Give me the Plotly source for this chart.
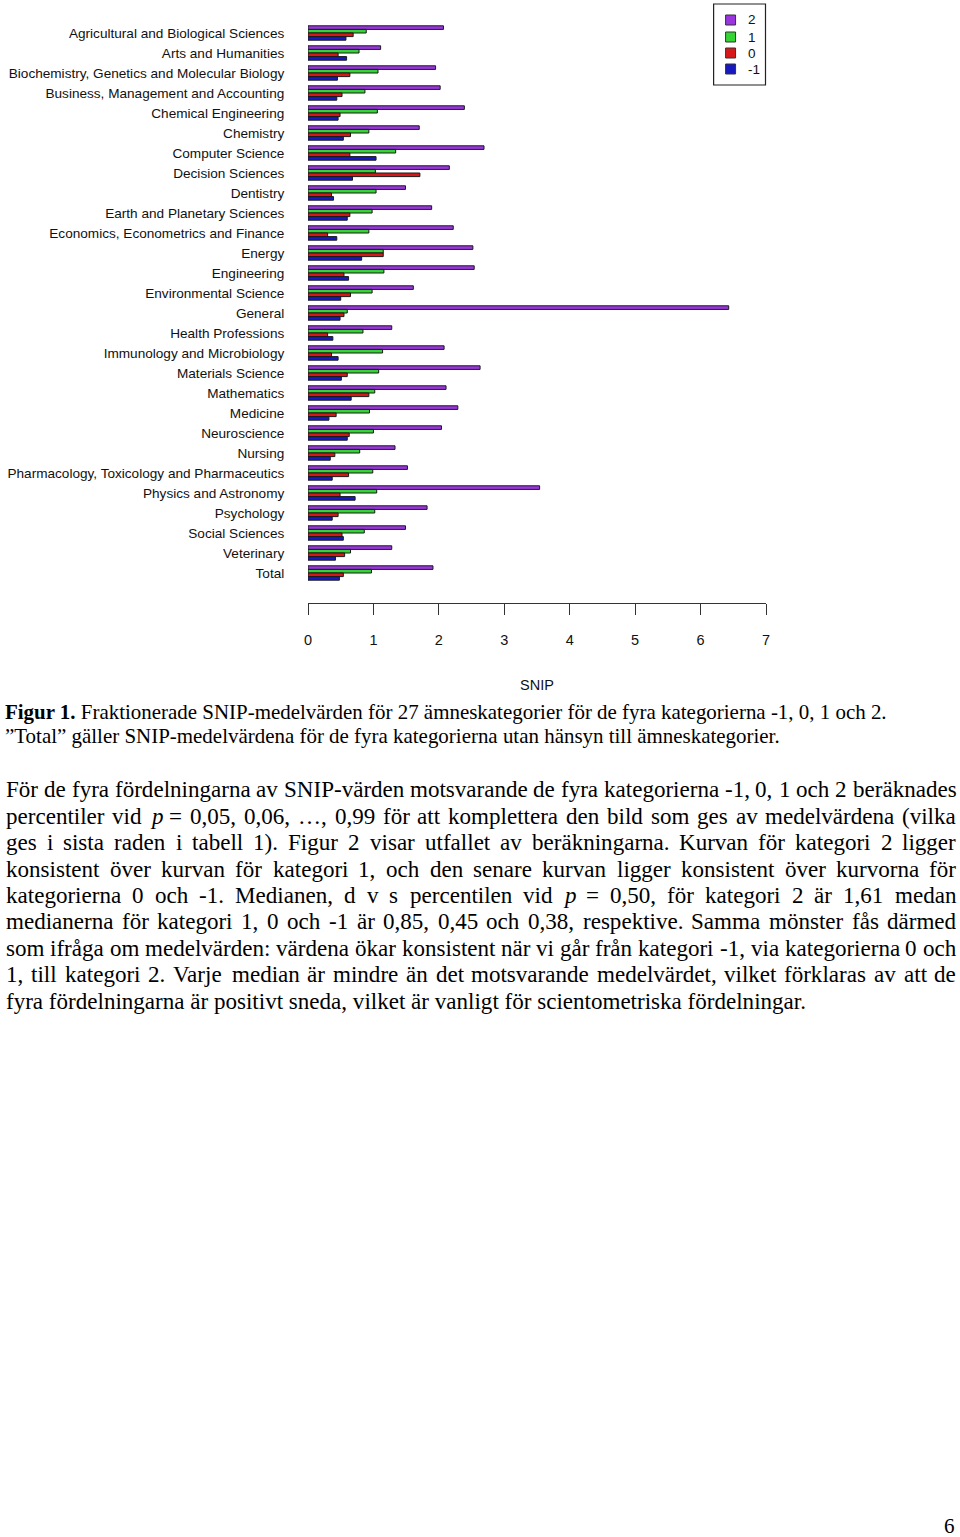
import plotly.graph_objects as go

categories = [
    "Agricultural and Biological Sciences", "Arts and Humanities",
    "Biochemistry, Genetics and Molecular Biology", "Business, Management and Accounting",
    "Chemical Engineering", "Chemistry", "Computer Science", "Decision Sciences",
    "Dentistry", "Earth and Planetary Sciences", "Economics, Econometrics and Finance",
    "Energy", "Engineering", "Environmental Science", "General", "Health Professions",
    "Immunology and Microbiology", "Materials Science", "Mathematics", "Medicine",
    "Neuroscience", "Nursing", "Pharmacology, Toxicology and Pharmaceutics",
    "Physics and Astronomy", "Psychology", "Social Sciences", "Veterinary", "Total",
]
snip_2 = [2.07, 1.11, 1.95, 2.02, 2.39, 1.70, 2.69, 2.16, 1.49, 1.89, 2.22, 2.52, 2.54, 1.61,
          6.43, 1.28, 2.08, 2.63, 2.11, 2.29, 2.04, 1.33, 1.52, 3.54, 1.82, 1.49, 1.28, 1.91]
snip_1 = [0.89, 0.78, 1.07, 0.87, 1.06, 0.93, 1.34, 1.03, 1.04, 0.98, 0.93, 1.15, 1.16, 0.98,
          0.60, 0.84, 1.14, 1.08, 1.02, 0.94, 1.00, 0.79, 0.99, 1.05, 1.02, 0.86, 0.65, 0.97]
snip_0 = [0.69, 0.46, 0.64, 0.52, 0.49, 0.65, 0.64, 1.71, 0.36, 0.64, 0.30, 1.15, 0.55, 0.65,
          0.55, 0.30, 0.36, 0.60, 0.93, 0.43, 0.63, 0.41, 0.62, 0.49, 0.46, 0.52, 0.56, 0.54]
snip_m1 = [0.58, 0.59, 0.45, 0.44, 0.46, 0.54, 1.04, 0.68, 0.39, 0.60, 0.44, 0.82, 0.62, 0.50,
           0.49, 0.38, 0.46, 0.51, 0.66, 0.32, 0.60, 0.34, 0.37, 0.72, 0.37, 0.54, 0.42, 0.48]
series_names = ["2", "1", "0", "-1"]
x_ticks = [0, 1, 2, 3, 4, 5, 6, 7]

colors = ["#9B35E0", "#33D433", "#D81818", "#1818C0"]

# Page layout (pixels)
W, H = 960, 1537
L, R_EDGE, TOP, BOT = 307.5, 766.5, 23, 603


def px(x):
    return (x - L) / (R_EDGE - L)


def py(y):
    return (BOT - y) / (BOT - TOP)


fig = go.Figure()
for name, vals, col in zip(series_names, [snip_2, snip_1, snip_0, snip_m1], colors):
    fig.add_trace(go.Bar(
        y=categories, x=vals, name=name, orientation="h", showlegend=False,
        marker=dict(color=col, line=dict(color="#1a1a1a", width=1)),
    ))

# ---- Text below the chart (Times metrics for justification) ----
REG = {' ': 250, ',': 250, '.': 250, '-': 333, '(': 333, ')': 333, ':': 278, '=': 564,
       '…': 1000, '”': 444, '"': 408}
for c, w in zip("abcdefghijklmnopqrstuvwxyz",
                [444, 500, 444, 500, 444, 333, 500, 500, 278, 278, 500, 278, 778, 500, 500, 500,
                 500, 333, 389, 278, 500, 500, 722, 500, 500, 444]):
    REG[c] = w
for c, w in zip("ABCDEFGHIJKLMNOPQRSTUVWXYZ",
                [722, 667, 667, 722, 611, 556, 722, 722, 333, 389, 722, 611, 889, 722, 722, 556,
                 722, 667, 556, 611, 722, 722, 944, 722, 722, 611]):
    REG[c] = w
for c in "0123456789":
    REG[c] = 500
REG.update({'å': 444, 'ä': 444, 'ö': 500, 'Ä': 722, 'Ö': 722, 'Å': 722})


def em(word):
    plain = word.replace("<i>", "").replace("</i>", "").replace("<b>", "").replace("</b>", "")
    return sum(REG.get(ch, 500) for ch in plain)


SERIF = "Liberation Serif, Times New Roman, serif"
SANS = "Liberation Sans, Arial, sans-serif"
para_lines = [
    "För de fyra fördelningarna av SNIP-värden motsvarande de fyra kategorierna -1, 0, 1 och 2 beräknades",
    "percentiler vid <i>p</i> = 0,05, 0,06, …, 0,99 för att komplettera den bild som ges av medelvärdena (vilka",
    "ges i sista raden i tabell 1). Figur 2 visar utfallet av beräkningarna. Kurvan för kategori 2 ligger",
    "konsistent över kurvan för kategori 1, och den senare kurvan ligger konsistent över kurvorna för",
    "kategorierna 0 och -1. Medianen, d v s percentilen vid <i>p</i> = 0,50, för kategori 2 är 1,61 medan",
    "medianerna för kategori 1, 0 och -1 är 0,85, 0,45 och 0,38, respektive. Samma mönster fås därmed",
    "som ifråga om medelvärden: värdena ökar konsistent när vi går från kategori -1, via kategorierna 0 och",
    "1, till kategori 2. Varje median är mindre än det motsvarande medelvärdet, vilket förklaras av att de",
    "fyra fördelningarna är positivt sneda, vilket är vanligt för scientometriska fördelningar.",
]
para_y = [789, 816, 842, 869, 895, 921, 948, 974, 1001]
X0, X1 = 4, 956
fs = 802 / em(para_lines[-1]) * 1000

annotations = []
for i, (line, yy) in enumerate(zip(para_lines, para_y)):
    if i == len(para_lines) - 1:
        annotations.append(dict(text=line, x=px(X0), y=py(yy), xanchor="left", yanchor="middle",
                                font=dict(family=SERIF, size=fs, color="#000"), borderpad=0))
        continue
    words = line.split(" ")
    widths = [em(w) * fs / 1000 for w in words]
    gap = (X1 - X0 - sum(widths)) / (len(words) - 1)
    xx = X0
    for w, wd in zip(words, widths):
        annotations.append(dict(text=w, x=px(xx), y=py(yy), xanchor="left", yanchor="middle",
                                font=dict(family=SERIF, size=fs, color="#000"), borderpad=0))
        xx += wd + gap

cap1 = "<b>Figur 1.</b> Fraktionerade SNIP-medelvärden för 27 ämneskategorier för de fyra kategorierna -1, 0, 1 och 2."
cap2 = "”Total” gäller SNIP-medelvärdena för de fyra kategorierna utan hänsyn till ämneskategorier."
fsc = 778 / em(cap2) * 1000
for t, yy in [(cap1, 712), (cap2, 736)]:
    annotations.append(dict(text=t, x=px(3), y=py(yy), xanchor="left", yanchor="middle",
                            font=dict(family=SERIF, size=fsc, color="#000"), borderpad=0))

annotations.append(dict(text="SNIP", x=px(537), y=py(685), xanchor="center", yanchor="middle",
                        font=dict(family=SANS, size=14.5, color="#111")))
annotations.append(dict(text="6", x=px(950), y=py(1526), xanchor="center", yanchor="middle",
                        font=dict(family=SERIF, size=21, color="#000")))

# ---- Manual legend (box, swatches, labels) ----
shapes = [dict(type="rect", xref="paper", yref="paper", x0=px(714), x1=px(766), y0=py(4), y1=py(85),
               line=dict(color="#222", width=1.2), fillcolor="white", layer="above")]
leg_y = [20, 37, 53, 69]
for name, col, yy in zip(series_names, colors, leg_y):
    shapes.append(dict(type="rect", xref="paper", yref="paper", x0=px(726), x1=px(736),
                       y0=py(yy + 5), y1=py(yy - 5), line=dict(color="#333", width=1),
                       fillcolor=col, layer="above"))
    annotations.append(dict(text=name, x=px(746), y=py(yy), xanchor="left", yanchor="middle",
                            font=dict(family=SANS, size=13.5, color="#111")))

for a in annotations:
    a.update(xref="paper", yref="paper", showarrow=False)

fig.update_layout(
    width=W, height=H, autosize=False,
    margin=dict(l=L, r=W - R_EDGE, t=TOP, b=H - BOT, pad=0, autoexpand=False),
    paper_bgcolor="white", plot_bgcolor="white",
    barmode="group", bargap=0.28, bargroupgap=0,
    showlegend=False,
    font=dict(family=SANS, color="#111"),
    xaxis=dict(range=[0, 7], tickvals=x_ticks, showgrid=False, zeroline=False, automargin=False,
               showline=True, linecolor="#333", linewidth=1.2, ticks="outside", ticklen=11,
               tickcolor="#333", tickwidth=1.2, tickfont=dict(size=14.5, color="#111"),
               ticklabelstandoff=12),
    yaxis=dict(type="category", range=[28.5, -0.5], showgrid=False, zeroline=False,
               automargin=False, showline=False, ticks="outside", ticklen=20,
               tickcolor="rgba(0,0,0,0)", tickfont=dict(size=13.6, color="#111")),
    shapes=shapes,
    annotations=annotations,
)
fig.write_html("out.html")
